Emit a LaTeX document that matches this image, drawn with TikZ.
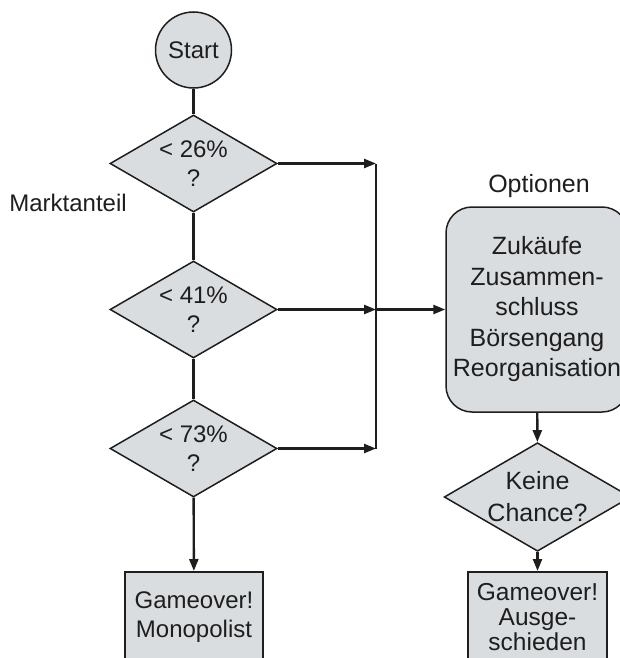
\documentclass[tikz,border=0pt]{standalone}
\usepackage{fontspec}
\setmainfont{Liberation Sans}
\usetikzlibrary{shapes.geometric,arrows.meta}
\definecolor{boxfill}{RGB}{218,221,224}
\definecolor{ink}{RGB}{30,30,30}
\tikzset{
  txt/.style={font=\fontsize{24}{29}\selectfont, text=ink},
  txtr/.style={font=\fontsize{25}{30.5}\selectfont, text=ink},
  shapebox/.style={draw=ink, line width=1.5pt, fill=boxfill, inner sep=0pt},
  decision/.style={shapebox, diamond, shape aspect=1.72, minimum width=167pt, minimum height=97pt, align=center},
  endbox/.style={shapebox, rectangle, anchor=north, align=center},
  conn/.style={draw=ink, line width=2.4pt},
  arr/.style={conn, -{Triangle[length=12pt,width=9pt]}},
  thin/.style={draw=ink, line width=1.5pt}
}
\begin{document}
\begin{tikzpicture}[x=1pt,y=-1pt]
\useasboundingbox (0,0) rectangle (620,658);
\clip (0,0) rectangle (620,658);
% left column
\node[shapebox, circle, minimum size=76pt, txt] (start) at (193.5,50) {Start};
\node[decision, txt] (d1) at (193.5,163.5) {< 26\%\\?};
\node[decision, txt] (d2) at (193.5,309.5) {< 41\%\\?};
\node[decision, txt] (d3) at (193.5,448.5) {< 73\%\\?};
\node[endbox, txt, minimum width=138pt, minimum height=90pt] (mono) at (194,571) {Gameover!\\Monopolist};
\node[txt] (markt) at (68,203) {Marktanteil};
% junction line
\coordinate (j1) at (376,163.5);
\coordinate (j2) at (376,309.5);
\coordinate (j3) at (376,448.5);
% right column
\node[txtr] (optlabel) at (539,186) {Optionen};
\node[shapebox, rectangle, rounded corners=26pt, minimum width=182pt, minimum height=205pt, align=center, txtr] (opt) at (537,309.5)
  {Zukäufe\\Zusammen-\\schluss\\Börsengang\\Reorganisation};
\node[decision, font=\fontsize{25}{32}\selectfont, text=ink] (keine) at (537.5,497) {Keine\\Chance?};
\node[endbox, font=\fontsize{24.5}{25}\selectfont, text=ink, minimum width=139pt, minimum height=90pt] (aus) at (537.5,571) {Gameover!\\Ausge-\\schieden};
% connectors
\draw[conn] (start) -- (d1);
\draw[conn] (d1) -- (d2);
\draw[conn] (d2) -- (d3);
\draw[arr] (d3) -- (mono);
\draw[arr] (d1.east) -- (j1);
\draw[arr] (d2.east) -- (j2);
\draw[arr] (d3.east) -- (j3);
\draw[thin] (j1) -- (j3);
\draw[arr] (j2) -- (opt.west);
\draw[arr] (opt) -- (keine);
\draw[arr] (keine) -- (aus);
\end{tikzpicture}
\end{document}
